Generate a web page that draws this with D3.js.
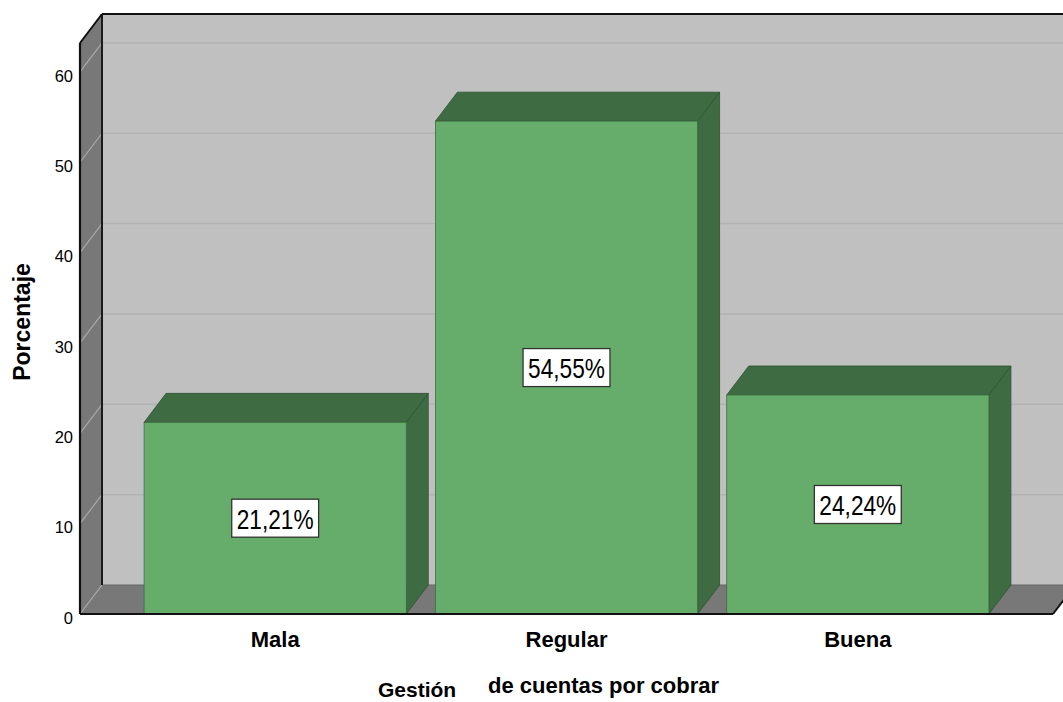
<!DOCTYPE html>
<html>
<head>
<meta charset="utf-8">
<script src="https://cdn.jsdelivr.net/npm/d3@7"></script>
<style>
  html, body { margin: 0; padding: 0; background: #fff; }
  svg { display: block; }
  text { font-family: "Liberation Sans", Arial, Helvetica, sans-serif; fill: #000; }
</style>
</head>
<body>
<svg id="chart" width="1063" height="702"></svg>
<script>
// Category names, percentage values and axis ticks
const categories = ["Mala", "Regular", "Buena"];
const values = [21.21, 54.55, 24.24];
const valueLabels = ["21,21%", "54,55%", "24,24%"];
const yTicks = [0, 10, 20, 30, 40, 50, 60];
const yTitle = "Porcentaje";
const xTitleParts = ["Gestión", "de cuentas por cobrar"];

const svg = d3.select("#chart");
const W = 1063, H = 702;

// Plot frame (front plane) and 3D depth offset
const plotL = 80, plotR = 1053, plotB = 614, plotT = 43;
const dx = 22, dy = -29;
const yMax = 63.2;

const y = d3.scaleLinear().domain([0, yMax]).range([plotB, plotT]);
const x = d3.scaleBand().domain(categories).range([plotL, plotR])
  .paddingInner(0.1).paddingOuter(0.22);

const poly = pts => pts.map(p => p.join(",")).join(" ");

const wallGray = "#c0c0c0";
const sideGray = "#787878";
const barFront = "#66ad6b";
const barDark = "#3e6b42";

// Back wall
svg.append("polygon")
  .attr("points", poly([[plotL + dx, plotT + dy], [plotR + dx + 40, plotT + dy], [plotR + dx + 40, plotB + dy], [plotL + dx, plotB + dy]]))
  .attr("fill", wallGray);

// Grid lines on the back wall
svg.append("g").selectAll("line").data(yTicks.filter(d => d > 0)).join("line")
  .attr("x1", plotL + dx).attr("x2", W)
  .attr("y1", d => y(d) + dy).attr("y2", d => y(d) + dy)
  .attr("stroke", "#b2b2b2").attr("stroke-width", 1.5);

// Left wall
svg.append("polygon")
  .attr("points", poly([[plotL, plotT], [plotL + dx, plotT + dy], [plotL + dx, plotB + dy], [plotL, plotB]]))
  .attr("fill", sideGray);

// Floor
svg.append("polygon")
  .attr("points", poly([[plotL, plotB], [plotL + dx, plotB + dy], [plotR + dx, plotB + dy], [plotR, plotB]]))
  .attr("fill", sideGray);
svg.append("line")
  .attr("x1", plotL + dx).attr("x2", W)
  .attr("y1", plotB + dy).attr("y2", plotB + dy)
  .attr("stroke", "#666").attr("stroke-width", 1);

// Grid lines on the left wall
svg.append("g").selectAll("line").data(yTicks).join("line")
  .attr("x1", plotL).attr("y1", d => y(d))
  .attr("x2", plotL + dx).attr("y2", d => y(d) + dy)
  .attr("stroke", "#a9a9a9").attr("stroke-width", 1.2);

// Inner corner edge between left wall and back wall
svg.append("line")
  .attr("x1", plotL + dx).attr("x2", plotL + dx)
  .attr("y1", plotT + dy).attr("y2", plotB + dy)
  .attr("stroke", "#1a1a1a").attr("stroke-width", 2);

// Bars
const barData = categories.map((c, i) => ({ c, v: values[i], label: valueLabels[i] }));
const bars = svg.append("g").selectAll("g").data(barData).join("g");

bars.each(function(d) {
  const g = d3.select(this);
  const x0 = x(d.c), x1 = x(d.c) + x.bandwidth();
  const yt = y(d.v), yb = y(0);
  // right side
  g.append("polygon")
    .attr("points", poly([[x1, yt], [x1 + dx, yt + dy], [x1 + dx, yb + dy], [x1, yb]]))
    .attr("fill", barDark).attr("stroke", "#2e5233").attr("stroke-width", 0.8);
  // top
  g.append("polygon")
    .attr("points", poly([[x0, yt], [x0 + dx, yt + dy], [x1 + dx, yt + dy], [x1, yt]]))
    .attr("fill", barDark).attr("stroke", "#2e5233").attr("stroke-width", 0.8);
  // front
  g.append("rect")
    .attr("x", x0).attr("y", yt).attr("width", x1 - x0).attr("height", yb - yt)
    .attr("fill", barFront).attr("stroke", "#3f6e44").attr("stroke-width", 0.8);
});

// Value labels in white boxes
bars.each(function(d) {
  const g = d3.select(this);
  const cx = x(d.c) + x.bandwidth() / 2;
  const cy = (y(d.v) + y(0)) / 2;
  const sx = 0.84;
  const box = g.append("rect");
  const t = g.append("text")
    .attr("transform", `translate(${cx},${cy + 1}) scale(${sx},1)`)
    .attr("text-anchor", "middle")
    .attr("dominant-baseline", "central")
    .attr("font-size", 27)
    .attr("fill", "#1a1a1a")
    .text(d.label);
  const w = t.node().getComputedTextLength() * sx + 10;
  const h = 38;
  box.attr("x", cx - w / 2).attr("y", cy - h / 2).attr("width", w).attr("height", h)
    .attr("fill", "#fff").attr("stroke", "#333").attr("stroke-width", 1.3);
});

// Frame edges
const edge = "#111";
svg.append("line").attr("x1", plotL).attr("y1", plotT).attr("x2", plotL).attr("y2", plotB)
  .attr("stroke", edge).attr("stroke-width", 2.2);
svg.append("line").attr("x1", plotL).attr("y1", plotT).attr("x2", plotL + dx).attr("y2", plotT + dy)
  .attr("stroke", edge).attr("stroke-width", 2);
svg.append("line").attr("x1", plotL + dx).attr("y1", plotT + dy).attr("x2", W).attr("y2", plotT + dy)
  .attr("stroke", edge).attr("stroke-width", 2);
svg.append("line").attr("x1", plotL).attr("y1", plotB).attr("x2", plotR).attr("y2", plotB)
  .attr("stroke", edge).attr("stroke-width", 2.2);
svg.append("line").attr("x1", plotR).attr("y1", plotB).attr("x2", plotR + dx).attr("y2", plotB + dy)
  .attr("stroke", edge).attr("stroke-width", 2);

// Y tick labels
svg.append("g").selectAll("text").data(yTicks).join("text")
  .attr("x", 73).attr("y", d => y(d) + 4)
  .attr("dy", "0.35em")
  .attr("text-anchor", "end")
  .attr("font-size", 16.5)
  .attr("fill", "#222")
  .text(d => d);

// Category labels
svg.append("g").selectAll("text").data(categories).join("text")
  .attr("x", d => x(d) + x.bandwidth() / 2)
  .attr("y", 647)
  .attr("text-anchor", "middle")
  .attr("font-size", 22)
  .attr("font-weight", "bold")
  .text(d => d);

// Axis titles
svg.append("text")
  .attr("transform", "translate(30,322) rotate(-90)")
  .attr("text-anchor", "middle")
  .attr("font-size", 23)
  .attr("font-weight", "bold")
  .text(yTitle);

svg.append("text")
  .attr("x", 378).attr("y", 697)
  .attr("font-size", 21)
  .attr("font-weight", "bold")
  .text(xTitleParts[0]);
svg.append("text")
  .attr("x", 488).attr("y", 693)
  .attr("font-size", 22)
  .attr("font-weight", "bold")
  .text(xTitleParts[1]);
</script>
</body>
</html>
